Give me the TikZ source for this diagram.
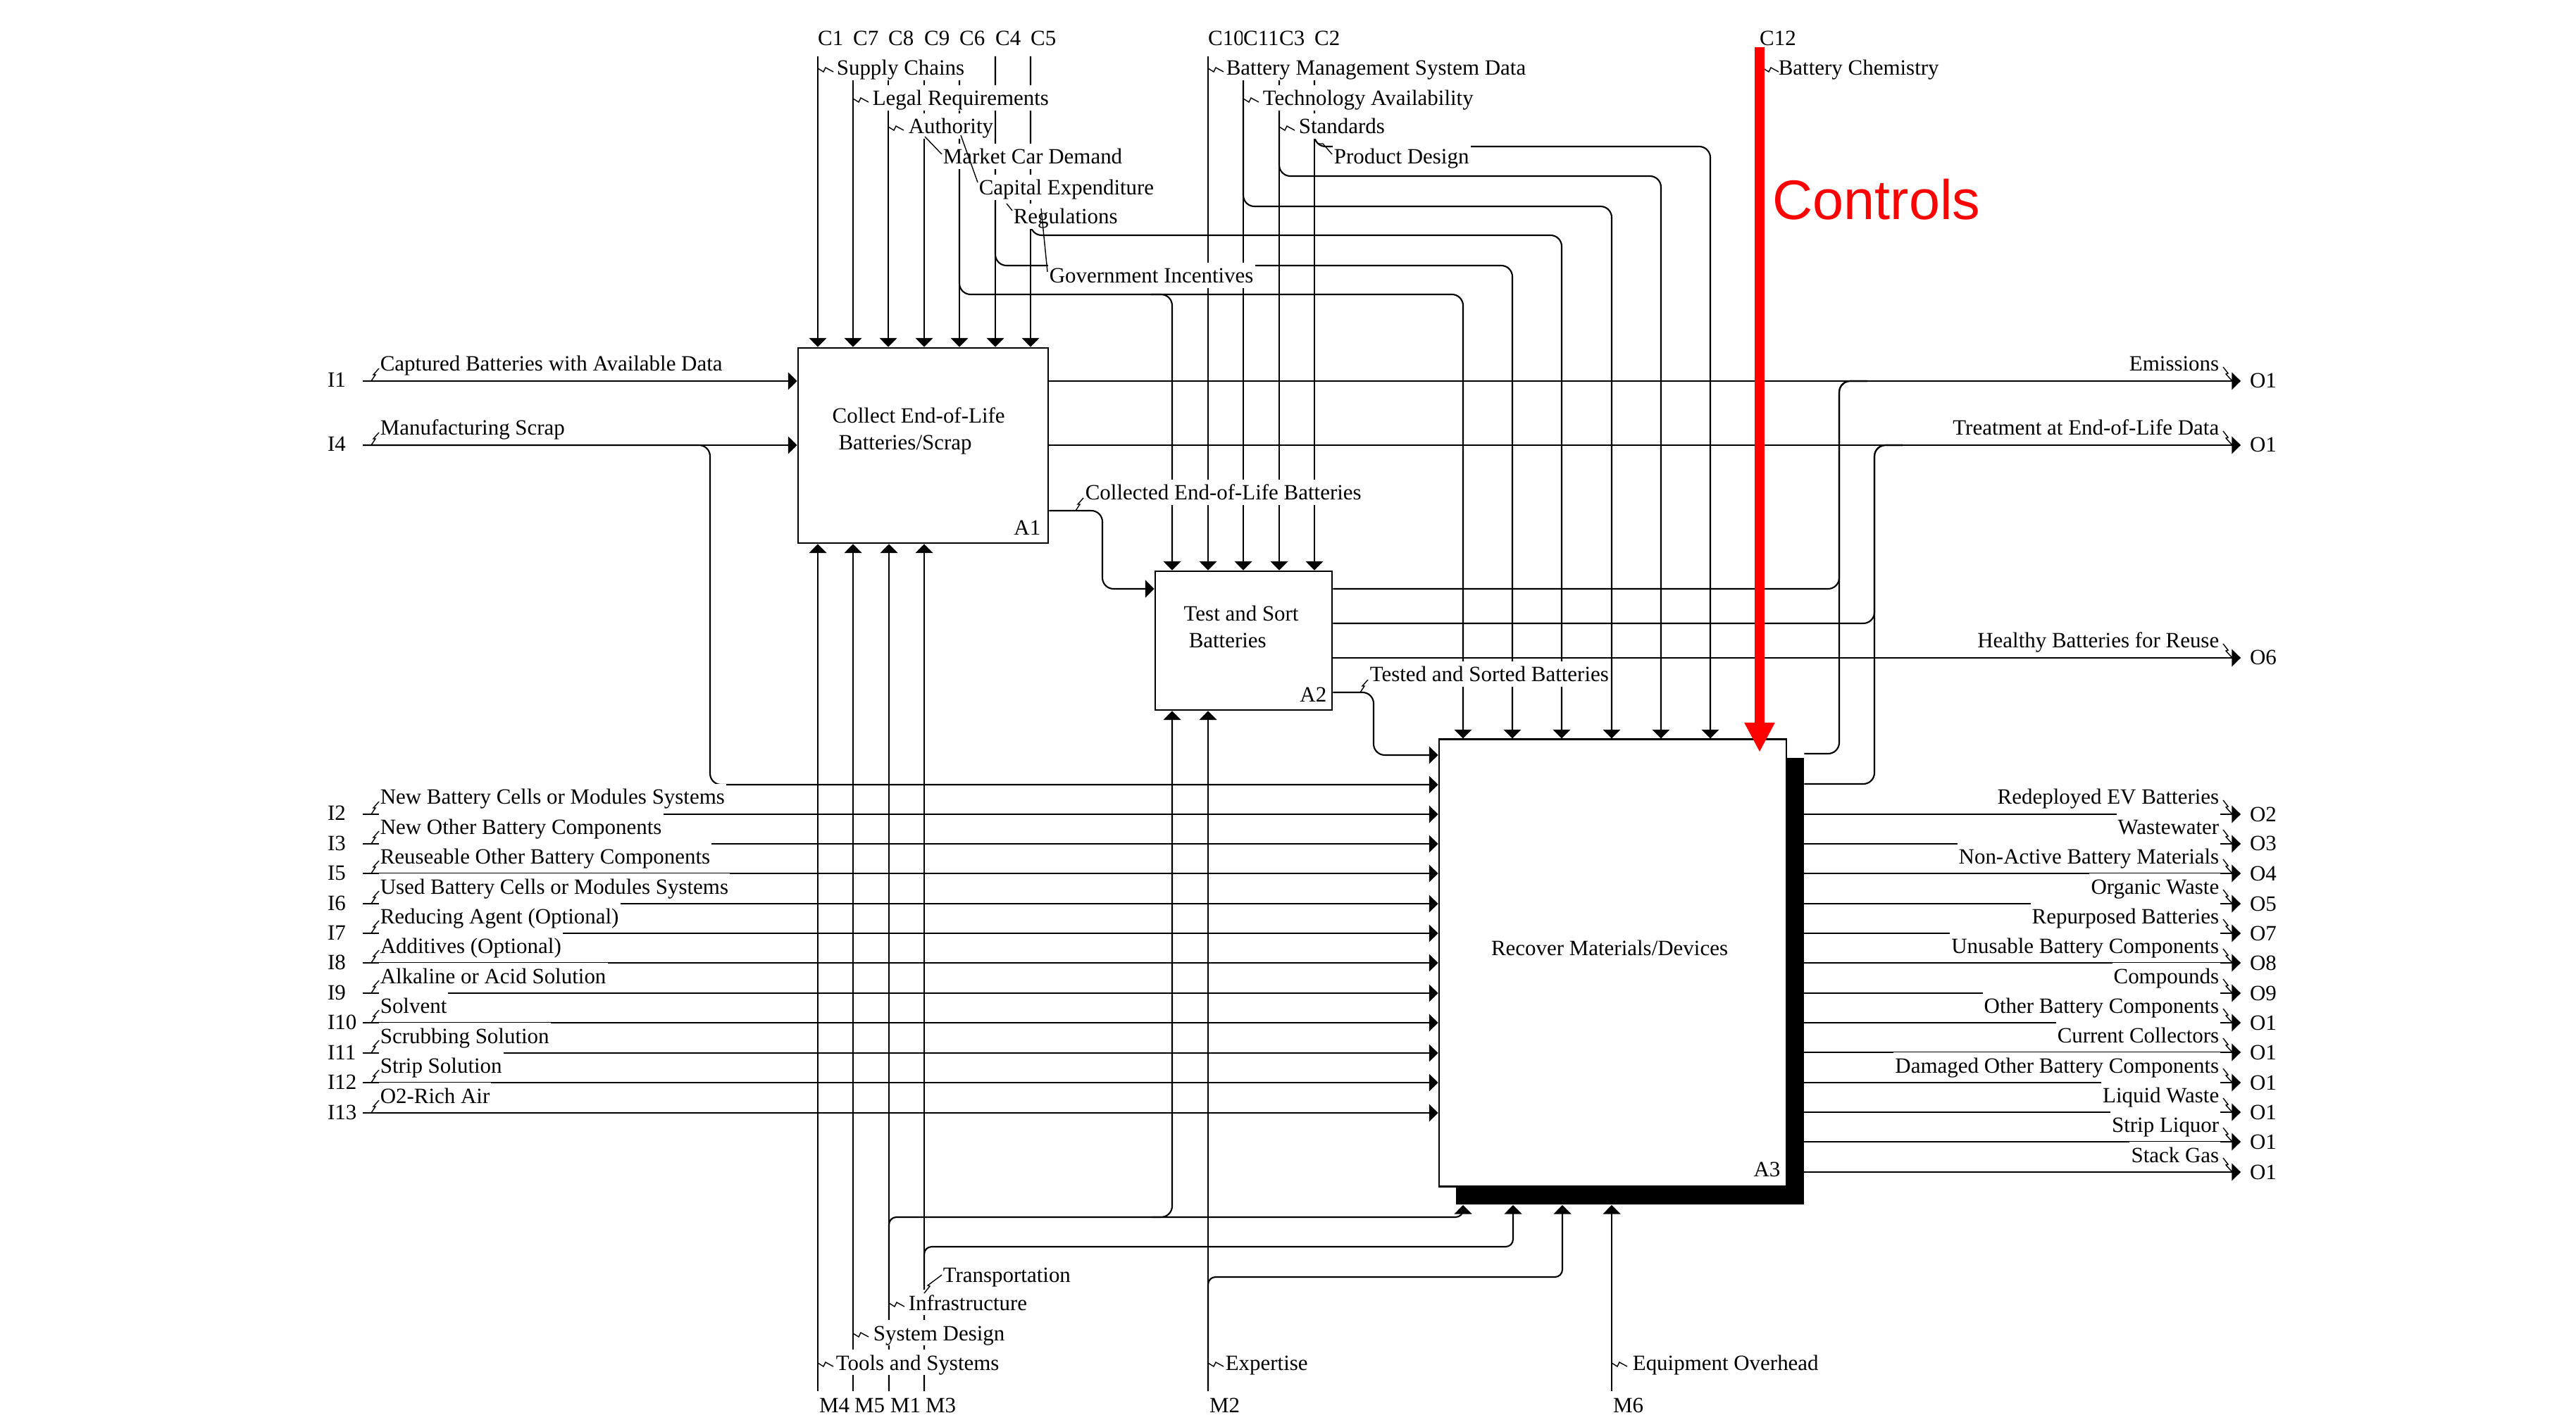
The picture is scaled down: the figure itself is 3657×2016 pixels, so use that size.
\documentclass[tikz,border=0pt]{standalone}
\usepackage{fontspec}
\setmainfont{Liberation Serif}
\newfontfamily\ctrlfont{Liberation Sans}
\usetikzlibrary{arrows.meta}

\begin{document}
\begin{tikzpicture}[
  x=0.01cm, y=-0.01cm,
  font=\fontsize{8.8}{10.8}\selectfont,
  actbox/.style={draw, line width=0.75pt, fill=white, inner sep=0pt},
  shadowbox/.style={fill=black, inner sep=0pt},
  flow/.style={line width=0.6pt, -{Triangle[length=3.6pt,width=7pt]}},
  link/.style={line width=0.6pt},
  rc/.style={rounded corners=4.5pt},
  arrlabel/.style={fill=white, inner xsep=0.6pt, inner ysep=0pt,
                   text height=8.2pt, text depth=2pt},
  idlabel/.style={fill=white, inner sep=0.4pt},
  leader/.style={line width=0.4pt},
  sqv/.pic={\draw[leader] (0,0) -- (8,5) -- (11,-1) -- (22,5);},
  squ/.pic={\draw[leader] (0,0) -- (6,-9) -- (3,-9) -- (11,-18);},
  sqo/.pic={\draw[leader] (0,0) -- (7,9) -- (4,10) -- (13,20);},
]
\path[use as bounding box, fill=white] (0,0) rectangle (3657,2016);

% ── Activity boxes ─────────────────────────────────────────────────────
\node[shadowbox, minimum width=4.93cm, minimum height=6.34cm] (A3s) at (2314,1393) {};
\node[actbox, minimum width=3.55cm, minimum height=2.77cm] (A1) at (1310.5,632.5) {};
\node[actbox, minimum width=2.51cm, minimum height=1.97cm] (A2) at (1765.5,909.5) {};
\node[actbox, minimum width=4.93cm, minimum height=6.34cm] (A3) at (2289.5,1367) {};

\node[align=left, anchor=west, inner sep=0pt] (A1t) at (1181,612) {Collect End-of-Life\\\hspace*{2.5pt}Batteries/Scrap};
\node[align=left, anchor=west, inner sep=0pt] (A2t) at (1680,890) {Test and Sort\\\hspace*{2pt}Batteries};
\node (A3t) at (2285,1346) {Recover Materials/Devices};
\node[anchor=base east, inner sep=0pt] (A1n) at (1478,760) {A1};
\node[anchor=base east, inner sep=0pt] (A2n) at (1884,997) {A2};
\node[anchor=base east, inner sep=0pt] (A3n) at (2528,1670) {A3};

% ── Controls ───────────────────────────────────────────────────────────
\foreach \id/\x in {C1/1161, C7/1211, C8/1261, C9/1312, C6/1362, C4/1413, C5/1463}{
  \coordinate (\id) at (\x,80);
  \draw[flow] (\id) -- (\id |- A1.north);
}
\foreach \id/\x in {C10/1715, C11/1765, C3/1816, C2/1866}{
  \coordinate (\id) at (\x,80);
  \draw[flow] (\id) -- (\id |- A2.north);
}
\coordinate (k0) at (1664,418);
\draw[flow, rc] ([xshift=-0.3cm]k0) -- (k0) -- (k0 |- A2.north);
\foreach \id/\k/\x/\y in {C6/k1/2077/418, C4/k2/2147/377, C5/k3/2217/334,
                          C11/k4/2288/293, C3/k5/2358/250, C2/k6/2428/208}{
  \coordinate (\k) at (\x,\y);
  \draw[flow, rc] (\id) -- (\id |- \k) -- (\k) -- (\k |- A3.north);
}

% ── Mechanisms ─────────────────────────────────────────────────────────
\foreach \id/\x in {M4/1161, M5/1211, M1/1262, M3/1312}{
  \coordinate (\id) at (\x,1975);
  \draw[flow] (\id) -- (\id |- A1.south);
}
\coordinate (M2) at (1715,1975);
\draw[flow] (M2) -- (M2 |- A2.south);
\coordinate (M6) at (2288,1975);
\draw[flow] (M6) -- (M6 |- A3s.south);
\foreach \id/\b/\x/\y in {M1/b1/2077/1728, M3/b2/2148/1770, M2/b3/2218/1813}{
  \coordinate (\b) at (\x,\y);
  \draw[flow, rounded corners=3pt] (\id) -- (\id |- \b) -- (\b) -- (\b |- A3s.south);
}
\coordinate (b0) at (1664,1728);
\draw[flow, rc] ([xshift=-0.3cm]b0) -- (b0) -- (b0 |- A2.south);

% ── Inputs ─────────────────────────────────────────────────────────────
\coordinate (I1) at (515,541);
\coordinate (I4) at (515,632);
\draw[flow] (I1) -- (I1 -| A1.west);
\draw[flow] (I4) -- (I4 -| A1.west);
\coordinate (i0) at (1008,1114);
\draw[flow, rc] (I4) -- (I4 -| i0) -- (i0) -- (i0 -| A3.west);

% ── Between activities ────────────────────────────────────────────────
\coordinate (col1) at (1565,725);
\coordinate (col2) at (1565,836);
\draw[flow, rc] (col1 -| A1.east) -- (col1) -- (col2) -- (col2 -| A2.west);
\coordinate (ts1) at (1950,983);
\coordinate (ts2) at (1950,1072);
\draw[flow, rc] (ts1 -| A2.east) -- (ts1) -- (ts2) -- (ts2 -| A3.west);

% ── Outputs (top) ─────────────────────────────────────────────────────
\coordinate (Oem) at (3181,541);
\coordinate (Otr) at (3181,632);
\coordinate (Ohb) at (3181,934);
\draw[flow] (Oem -| A1.east) -- (Oem);
\draw[flow] (Otr -| A1.east) -- (Otr);
\draw[flow] (Ohb -| A2.east) -- (Ohb);
\coordinate (e1) at (2611,836);
\coordinate (e2) at (2611,1070);
\coordinate (t1) at (2661,885);
\coordinate (t2) at (2661,1113);
\draw[link, rc] (e1 -| A2.east) -- (e1) -- (e1 |- Oem) -- ++(40,0);
\draw[link, rc] (e2 -| A3s.east) -- (e2) -- (e2 |- Oem) -- ++(40,0);
\draw[link, rc] (t1 -| A2.east) -- (t1) -- (t1 |- Otr) -- ++(40,0);
\draw[link, rc] (t2 -| A3s.east) -- (t2) -- (t2 |- Otr) -- ++(40,0);

% ── Inputs to A3 with labels ──────────────────────────────────────────
\foreach \id/\y/\txt in {I2/1156/New Battery Cells or Modules Systems,
    I3/1198/New Other Battery Components, I5/1240/Reuseable Other Battery Components,
    I6/1283/Used Battery Cells or Modules Systems, I7/1325/Reducing Agent (Optional),
    I8/1367/Additives (Optional), I9/1410/Alkaline or Acid Solution,
    I10/1452/Solvent, I11/1495/Scrubbing Solution, I12/1537/Strip Solution,
    I13/1580/O2-Rich Air}{
  \coordinate (\id) at (515,\y);
  \draw[flow] (\id) -- (\id -| A3.west);
  \node[arrlabel, anchor=base west] (\id-t) at (537,\y-14) {\txt};
  \node[idlabel, anchor=base west] (\id-c) at (463,\y+9) {\id};
  \pic at (527,\y) {squ};
}
\node[arrlabel, anchor=base west] (I1-t) at (537,527) {Captured Batteries with Available Data};
\node[arrlabel, anchor=base west] (I4-t) at (537,618) {Manufacturing Scrap};
\node[idlabel, anchor=base west] (I1-c) at (463,550) {I1};
\node[idlabel, anchor=base west] (I4-c) at (463,641) {I4};
\pic at (527,541) {squ};
\pic at (527,632) {squ};

% ── Outputs of A3 with labels ─────────────────────────────────────────
\foreach \y/\cd/\txt in {1156/O2/Redeployed EV Batteries, 1198/O3/Wastewater,
    1240/O4/Non-Active Battery Materials, 1283/O5/Organic Waste,
    1325/O7/Repurposed Batteries, 1367/O8/Unusable Battery Components,
    1410/O9/Compounds, 1452/O1/Other Battery Components,
    1494/O1/Current Collectors, 1537/O1/Damaged Other Battery Components,
    1579/O1/Liquid Waste, 1621/O1/Strip Liquor, 1664/O1/Stack Gas}{
  \coordinate (o\y) at (3181,\y);
  \draw[flow] (o\y -| A3s.east) -- (o\y);
  \node[arrlabel, anchor=base east] (o\y-t) at (3153,\y-14) {\txt};
  \node[idlabel, anchor=base west] (o\y-c) at (3192,\y+10) {\cd};
  \pic at (3156,\y-20) {sqo};
}
\foreach \c/\y/\cd/\txt in {Oem/541/O1/Emissions, Otr/632/O1/Treatment at End-of-Life Data,
    Ohb/934/O6/Healthy Batteries for Reuse}{
  \node[arrlabel, anchor=base east] (\c-t) at (3153,\y-14) {\txt};
  \node[idlabel, anchor=base west] (\c-c) at (3192,\y+10) {\cd};
  \pic at (3156,\y-20) {sqo};
}

% ── Labels on controls and mechanisms ─────────────────────────────────
\foreach \id/\x in {C1/1161, C7/1211, C8/1261, C9/1312, C6/1362, C4/1413, C5/1463,
                    C10/1715, C11/1765, C3/1816, C2/1866, C12/2498}
  \node[idlabel, anchor=base west] (\id-c) at (\x-2,65) {\id};
\foreach \id/\x in {M4/1161, M5/1211, M1/1262, M3/1312, M2/1715, M6/2288}
  \node[idlabel, anchor=base west] (\id-c) at (\x,2005) {\id};

\foreach \id/\x/\y/\txt in {C1/1185/107/Supply Chains, C7/1236/150/Legal Requirements,
    C8/1287/190/Authority, C9/1336/233/Market Car Demand,
    C6/1387/277/Capital Expenditure, C4/1436/318/Regulations,
    C5/1487/402/Government Incentives, C10/1738/107/Battery Management System Data,
    C11/1790/150/Technology Availability, C3/1841/190/Standards,
    C2/1891/233/Product Design, C12/2522/107/Battery Chemistry,
    M4/1184/1945/Tools and Systems, M5/1237/1903/System Design,
    M1/1287/1860/Infrastructure, M3/1336/1820/Transportation,
    M2/1737/1945/Expertise, M6/2315/1945/Equipment Overhead}
  \node[arrlabel, anchor=base west] (\id-t) at (\x,\y) {\txt};

\node[arrlabel, anchor=base west] (col-t) at (1538,710) {Collected End-of-Life Batteries};
\node[arrlabel, anchor=base west] (ts-t) at (1942,968) {Tested and Sorted Batteries};
\pic at (1527,725) {squ};
\pic at (1931,983) {squ};

% leaders
\foreach \x/\y in {1161/97, 1211/140, 1261/180, 1715/97, 1765/140, 1816/180, 2503/97,
                   1161/1935, 1211/1893, 1262/1850, 1715/1935, 2288/1935}
  \pic at (\x,\y) {sqv};
\draw[leader] (1313,194) -- (1337,219);
\draw[leader] (1364,192) -- (1388,259);
\draw[leader] (1429,289) -- (1437,299);
\draw[leader] (1478,296) -- (1487,386);
\draw[leader] (1871,204) -- (1878,204) -- (1891,219);
\draw[leader] (1312,1836) -- (1320,1826) -- (1317,1825) -- (1337,1810);

% ── Highlighted control ───────────────────────────────────────────────
\coordinate (C12) at (2498,67);
\coordinate (C12e) at (2498,1068);
\draw[red, line width=4pt, -{Triangle[length=12pt,width=11.5pt]}] (C12) -- (C12e);
\node[text=red, font=\ctrlfont\fontsize{22.5}{27}\selectfont, anchor=base west, inner sep=0pt]
  (ctl) at (2516,312) {Controls};

\end{tikzpicture}
\end{document}
